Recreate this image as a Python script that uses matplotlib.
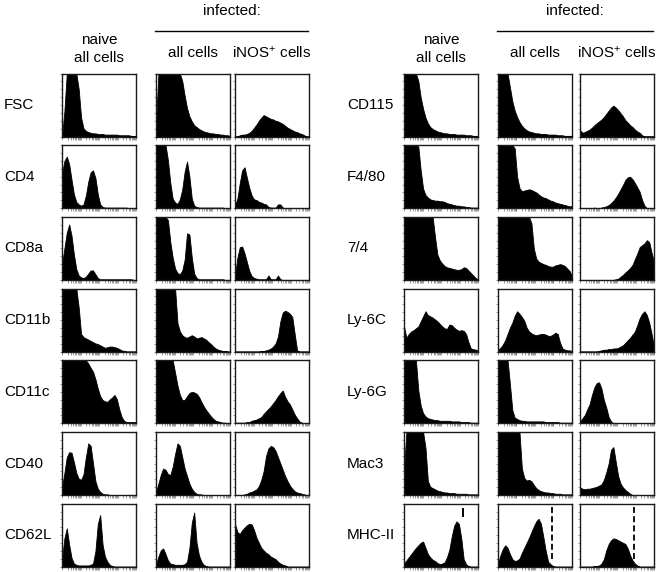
import numpy as np
import matplotlib

matplotlib.use("Agg")
import matplotlib.pyplot as plt
from matplotlib.lines import Line2D

plt.rcParams.update({
    "font.family": ["Liberation Sans", "DejaVu Sans"],
    "font.size": 11,
    "mathtext.default": "regular",
})

# histogram heights, % of panel height, 32 channels across the log axis
# order in each tuple: naive all cells, infected all cells, infected iNOS+ cells
fsc = ([0, 40, 100, 100, 100, 100, 100, 75, 30, 13, 9, 7, 6, 5, 5, 4, 4, 4, 3, 3, 3, 3, 3, 3, 2, 2, 2, 2, 2, 1, 1, 0],
       [20, 100, 100, 100, 100, 100, 100, 100, 100, 100, 100, 88, 65, 45, 32, 24, 18, 15, 12, 10, 8, 7, 6, 5, 5, 4, 4, 3, 3, 2, 2, 1],
       [0, 0, 2, 3, 3, 4, 6, 9, 14, 19, 25, 30, 34, 32, 30, 28, 27, 25, 24, 22, 20, 17, 14, 12, 10, 8, 7, 5, 4, 2, 0, 0])
cd4 = ([55, 75, 82, 70, 45, 22, 10, 6, 4, 6, 20, 42, 57, 60, 48, 22, 6, 2, 1, 1, 1, 1, 1, 1, 1, 1, 1, 1, 0, 0, 0, 0],
       [100, 100, 100, 100, 100, 76, 40, 15, 9, 7, 14, 30, 58, 74, 50, 15, 4, 2, 1, 1, 1, 1, 1, 1, 1, 1, 1, 1, 1, 0, 0, 0],
       [5, 15, 40, 60, 65, 48, 32, 20, 14, 13, 10, 9, 7, 6, 2, 1, 1, 1, 6, 6, 1, 0, 0, 0, 0, 0, 0, 0, 0, 0, 0, 0])
cd8a = ([25, 50, 75, 88, 70, 40, 17, 7, 4, 3, 5, 10, 15, 15, 9, 3, 1, 1, 1, 1, 1, 1, 1, 1, 1, 1, 1, 1, 1, 1, 0, 0],
        [100, 100, 100, 100, 100, 95, 60, 35, 18, 11, 9, 15, 32, 74, 72, 35, 10, 3, 1, 1, 1, 1, 1, 1, 1, 1, 1, 1, 1, 0, 0, 0],
        [8, 35, 52, 53, 42, 28, 14, 6, 3, 2, 1, 1, 1, 1, 7, 1, 1, 1, 7, 1, 0, 0, 0, 0, 0, 0, 0, 0, 0, 0, 0, 0])
cd11b = ([100, 100, 100, 100, 100, 100, 100, 70, 28, 23, 21, 19, 17, 15, 13, 12, 10, 8, 6, 7, 8, 8, 7, 6, 4, 2, 1, 0, 0, 0, 0, 0],
         [100, 100, 100, 100, 100, 100, 100, 100, 100, 45, 32, 26, 23, 22, 24, 26, 24, 21, 22, 23, 21, 19, 15, 12, 8, 5, 3, 2, 1, 1, 0, 0],
         [0, 0, 0, 0, 0, 0, 0, 0, 0, 0, 0, 1, 1, 2, 3, 5, 8, 13, 24, 48, 62, 65, 63, 60, 55, 28, 2, 0, 0, 0, 0, 0])
cd11c = ([100, 100, 100, 100, 100, 100, 100, 100, 100, 100, 100, 95, 88, 82, 70, 55, 43, 37, 35, 34, 38, 41, 45, 38, 22, 10, 4, 2, 2, 2, 2, 2],
         [100, 100, 100, 100, 100, 100, 100, 100, 80, 60, 45, 37, 37, 43, 48, 50, 49, 47, 42, 34, 27, 21, 16, 11, 7, 4, 3, 2, 1, 1, 0, 0],
         [1, 1, 1, 1, 1, 2, 2, 4, 5, 6, 8, 10, 15, 19, 23, 27, 32, 37, 43, 48, 52, 42, 35, 30, 22, 14, 8, 3, 1, 0, 0, 0])
cd40 = ([12, 35, 60, 68, 67, 52, 35, 26, 24, 33, 60, 82, 78, 50, 22, 10, 5, 2, 1, 1, 0, 0, 0, 0, 0, 0, 0, 0, 0, 0, 0, 0],
        [5, 18, 32, 42, 40, 33, 32, 45, 65, 82, 78, 60, 42, 30, 18, 10, 5, 2, 1, 1, 0, 0, 0, 0, 0, 0, 0, 0, 0, 0, 0, 0],
        [0, 0, 0, 0, 1, 2, 4, 5, 7, 9, 14, 24, 38, 62, 74, 78, 76, 70, 60, 50, 40, 30, 22, 15, 10, 6, 4, 3, 2, 1, 0, 0])
cd62l = ([12, 45, 61, 35, 14, 5, 3, 2, 2, 2, 2, 2, 3, 5, 25, 68, 82, 35, 16, 8, 3, 1, 0, 0, 0, 0, 0, 0, 0, 0, 0, 0],
         [4, 16, 26, 29, 20, 10, 5, 4, 3, 3, 3, 3, 4, 8, 30, 70, 86, 38, 18, 8, 3, 1, 0, 0, 0, 0, 0, 0, 0, 0, 0, 0],
         [68, 55, 52, 58, 62, 66, 68, 67, 58, 46, 38, 30, 26, 22, 20, 16, 14, 12, 8, 5, 3, 2, 0, 0, 0, 0, 0, 0, 0, 0, 0, 0])

cd115 = ([100, 100, 100, 100, 100, 100, 88, 62, 44, 30, 21, 15, 12, 10, 8, 7, 6, 5, 5, 4, 4, 4, 3, 3, 3, 3, 2, 2, 2, 1, 1, 1],
         [100, 100, 100, 100, 100, 78, 56, 41, 31, 23, 17, 13, 10, 8, 7, 6, 5, 5, 4, 4, 4, 3, 3, 3, 3, 2, 2, 2, 1, 1, 1, 1],
         [10, 6, 7, 9, 11, 14, 18, 21, 24, 27, 31, 36, 41, 46, 49, 46, 42, 37, 32, 26, 22, 18, 15, 11, 8, 6, 2, 0, 0, 0, 0, 0])
f480 = ([100, 100, 100, 100, 100, 100, 98, 60, 31, 21, 17, 14, 13, 12, 12, 11, 11, 10, 8, 7, 6, 5, 4, 4, 3, 3, 2, 2, 1, 1, 1, 1],
        [100, 100, 100, 100, 100, 100, 100, 95, 50, 32, 27, 28, 29, 30, 29, 27, 25, 22, 19, 17, 16, 14, 12, 11, 9, 8, 7, 6, 5, 4, 3, 3],
        [0, 0, 0, 0, 0, 0, 1, 0, 0, 1, 2, 3, 5, 8, 12, 17, 23, 30, 37, 45, 49, 50, 46, 40, 33, 26, 13, 4, 0, 0, 0, 0])
m74 = ([100, 100, 100, 100, 100, 100, 100, 100, 100, 100, 100, 100, 100, 68, 40, 31, 26, 22, 20, 19, 18, 17, 16, 16, 17, 20, 19, 15, 11, 7, 3, 1],
       [100, 100, 100, 100, 100, 100, 100, 100, 100, 100, 100, 100, 100, 100, 90, 50, 34, 29, 27, 25, 24, 22, 21, 21, 23, 24, 25, 24, 22, 18, 14, 6],
       [0, 0, 0, 0, 0, 0, 0, 0, 0, 0, 0, 0, 0, 0, 0, 1, 2, 5, 8, 12, 15, 19, 24, 33, 42, 52, 55, 58, 63, 60, 43, 29])
ly6c = ([40, 22, 28, 32, 34, 37, 40, 48, 56, 64, 58, 56, 54, 51, 48, 44, 40, 37, 36, 43, 42, 38, 35, 33, 34, 33, 28, 15, 5, 4, 3, 2],
        [3, 6, 11, 18, 28, 38, 46, 57, 64, 60, 55, 49, 38, 32, 29, 27, 26, 27, 28, 28, 27, 25, 25, 27, 30, 28, 14, 5, 3, 2, 2, 1],
        [0, 0, 0, 0, 0, 0, 0, 0, 1, 2, 3, 3, 4, 4, 5, 5, 6, 8, 10, 14, 18, 22, 27, 32, 42, 53, 60, 64, 58, 46, 28, 8])
ly6g = ([100, 100, 100, 100, 100, 100, 52, 28, 16, 11, 8, 7, 6, 5, 5, 4, 4, 4, 4, 4, 3, 3, 3, 3, 2, 2, 2, 2, 1, 1, 1, 1],
        [100, 100, 100, 100, 100, 62, 21, 9, 7, 5, 4, 4, 3, 3, 3, 3, 3, 3, 3, 3, 2, 2, 2, 2, 2, 2, 1, 1, 1, 1, 1, 1],
        [3, 8, 13, 22, 30, 45, 57, 64, 65, 55, 37, 25, 10, 3, 0, 0, 0, 0, 0, 0, 0, 0, 0, 0, 0, 0, 0, 0, 0, 0, 0, 0])
mac3 = ([40, 100, 100, 100, 100, 100, 100, 100, 100, 75, 22, 13, 11, 9, 7, 6, 5, 4, 4, 3, 3, 3, 2, 2, 2, 2, 2, 1, 1, 1, 1, 1],
        [100, 100, 100, 100, 100, 100, 100, 100, 100, 100, 42, 27, 23, 24, 22, 16, 11, 8, 6, 5, 4, 4, 3, 3, 2, 2, 2, 1, 1, 1, 1, 1],
        [12, 10, 9, 10, 10, 11, 12, 13, 15, 17, 24, 36, 50, 72, 76, 52, 30, 18, 12, 8, 5, 2, 0, 0, 0, 0, 0, 0, 0, 0, 0, 0])
mhc2 = ([5, 10, 15, 20, 25, 30, 34, 38, 40, 30, 20, 15, 11, 9, 6, 4, 5, 7, 15, 27, 48, 65, 72, 68, 45, 12, 4, 1, 0, 0, 0, 0],
        [6, 18, 28, 34, 30, 20, 12, 9, 10, 13, 22, 30, 38, 46, 55, 64, 72, 76, 68, 47, 25, 8, 4, 1, 0, 0, 0, 0, 0, 0, 0, 0],
        [0, 0, 0, 0, 0, 0, 1, 1, 2, 5, 12, 26, 36, 42, 45, 44, 42, 40, 38, 36, 29, 18, 10, 5, 2, 0, 0, 0, 0, 0, 0, 0])

left_labels = ["FSC", "CD4", "CD8a", "CD11b", "CD11c", "CD40", "CD62L"]
left_data = [fsc, cd4, cd8a, cd11b, cd11c, cd40, cd62l]
right_labels = ["CD115", "F4/80", "7/4", "Ly-6C", "Ly-6G", "Mac3", "MHC-II"]
right_data = [cd115, f480, m74, ly6c, ly6g, mac3, mhc2]

# MHC-II gates: (column, x position on the 0-1 axis, y from, y to)
gate_solid = (0, 0.795, 81, 92)
gates_dashed = [(1, 0.725, 13, 97), (2, 0.727, 13, 94)]

W, H = 662, 572
fig = plt.figure(figsize=(W / 100, H / 100), dpi=100)

GROUPS = [
    dict(cols=[62, 156, 235], label_x=4, labels=left_labels, data=left_data),
    dict(cols=[404, 498, 580], label_x=347, labels=right_labels, data=right_data),
]
PW, PH = 74, 63
TOP0, STEP = 73.5, 71.7

x_ticks = [(d + np.log10(k)) / 4 for d in range(4) for k in range(1, 10)] + [1.0]
y_ticks = np.linspace(0, 100, 9)


def px_axes(x, top, w, h):
    return fig.add_axes([x / W, 1 - (top + h) / H, w / W, h / H])


axes_by = {}
for g, grp in enumerate(GROUPS):
    for r, (lab, series) in enumerate(zip(grp["labels"], grp["data"])):
        top = TOP0 + r * STEP
        fig.text(grp["label_x"] / W, 1 - (top + PH / 2) / H, lab,
                 ha="left", va="center", fontsize=11)
        for c, vals in enumerate(series):
            ax = px_axes(grp["cols"][c], top, PW, PH)
            x = np.linspace(0, 1, len(vals))
            ax.fill_between(x, 0, vals, facecolor="black", edgecolor="black", lw=0.6)
            ax.set_xlim(0, 1)
            ax.set_ylim(0, 100)
            ax.set_xticks(x_ticks)
            ax.set_yticks(y_ticks)
            ax.tick_params(length=1.8, width=0.5, color="0.45", direction="out",
                           labelbottom=False, labelleft=False)
            for s in ax.spines.values():
                s.set_linewidth(1.0)
                s.set_color("0.1")
                s.set_zorder(5)
            axes_by[(g, r, c)] = ax

# MHC-II gate markers
gx = gate_solid
axes_by[(1, 6, gx[0])].plot([gx[1], gx[1]], [gx[2], gx[3]], color="black", lw=1.4)
for col, xg, y0, y1 in gates_dashed:
    axes_by[(1, 6, col)].plot([xg, xg], [y0, y1], color="black", lw=1.3,
                              linestyle=(0, (3.3, 1.8)))

# headers
for grp in GROUPS:
    c0, c1, c2 = [x + PW / 2 for x in grp["cols"]]
    fig.text(c0 / W, 1 - 40 / H, "naive", ha="center", va="center")
    fig.text(c0 / W, 1 - 58 / H, "all cells", ha="center", va="center")
    fig.text(c1 / W, 1 - 53 / H, "all cells", ha="center", va="center")
    fig.text(c2 / W, 1 - 53 / H, "iNOS$^{+}$ cells", ha="center", va="center")
    x_left = grp["cols"][1] - 1
    x_right = grp["cols"][2] + PW - 1
    fig.text((x_left + x_right) / 2 / W, 1 - 11 / H, "infected:", ha="center", va="center")
    fig.add_artist(Line2D([x_left / W, x_right / W], [1 - 30.5 / H, 1 - 30.5 / H],
                          color="black", lw=1.0))

fig.savefig("out.png", dpi=100)
